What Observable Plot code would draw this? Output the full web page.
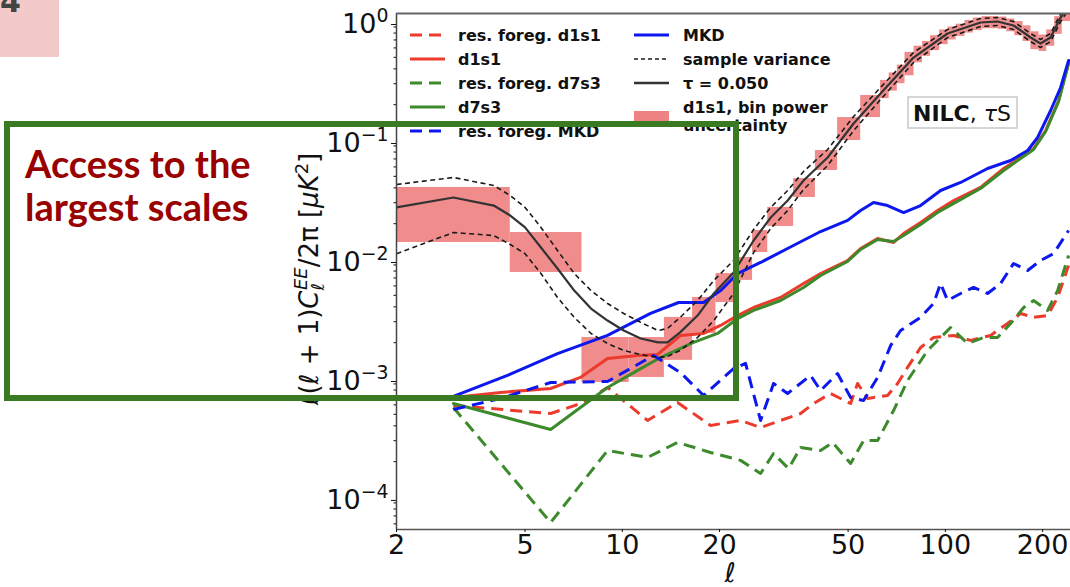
<!DOCTYPE html>
<html><head><meta charset="utf-8">
<script src="https://cdn.jsdelivr.net/npm/d3@7"></script>
<script src="https://cdn.jsdelivr.net/npm/@observablehq/plot@0.6"></script>
<style>
html,body{margin:0;padding:0;background:#fff;}
body{width:1070px;height:587px;overflow:hidden;position:relative;}
#chart{position:absolute;left:0;top:0;}
</style></head>
<body><div id="chart"></div>
<script>
// ---------- data ----------
// theory tau = 0.050 and sample variance band
const thEll = [2,3,4,4.5,5,5.6,6.3,7.1,8,9,10.1,11.4,12.9,13.8,15.1,17.1,19.2,22.1,25.5,28.8,32.5,36.4,43.2,52,63,79.7,101.6,128.5,145,162.6,183.6,197,211.7,227.5,240.6];
const tau050 = [0.0274,0.0332,0.0284,0.0234,0.0186,0.0126,0.0084,0.00548,0.00387,0.00307,0.00253,0.00217,0.00201,0.00201,0.00244,0.00338,0.00518,0.00778,0.01445,0.02254,0.0313,0.0461,0.072,0.139,0.248,0.498,0.793,0.981,1.0,0.926,0.734,0.653,0.734,1.08,1.36];
const svUpper = [0.0427,0.0489,0.0419,0.0345,0.0274,0.0186,0.01191,0.00762,0.00548,0.00427,0.00352,0.00296,0.00253,0.00263,0.00326,0.00452,0.00667,0.00981,0.01787,0.0274,0.038,0.0549,0.084,0.159,0.279,0.549,0.857,1.06,1.08,1.0,0.793,0.706,0.793,1.167,1.47];
const svLower = [0.0112,0.01686,0.0159,0.01337,0.0112,0.00762,0.0048,0.00326,0.00239,0.00197,0.00172,0.00159,0.0015,0.00153,0.00172,0.00221,0.00307,0.00518,0.01145,0.01823,0.0258,0.0388,0.0616,0.121,0.221,0.452,0.734,0.908,0.926,0.857,0.679,0.605,0.679,1.0,1.26];

// MKD
const mkdEll = [3,4.41,6.3,9,12.23,14.94,17.85,20.14,22.74,26.79,32.48,41.1,49.82,54.65,59.96,66.26,74.26,83.82,96.66,111.5,135.1,159.2,179.8,193,211.8,227.4,240.7];
const mkd = [0.000706,0.00106,0.00162,0.0023,0.00352,0.00435,0.00435,0.00548,0.00762,0.00944,0.01237,0.01718,0.0213,0.0258,0.0301,0.0284,0.0248,0.0284,0.038,0.0444,0.0582,0.0679,0.0824,0.106,0.1787,0.279,0.47];
// d1s1
const d1s1Ell = [3,4.2,6,7.42,9,11.15,12.85,15.15,17.85,20.14,22.74,25.49,30.9,36.4,41.1,49.82,54.65,61.7,69.15,74.26,83.82,94.62,106.1,128.5,151.5,171,187.6,204.4,224.2,240.7];
const d1s1 = [0.000692,0.000763,0.000824,0.00102,0.00147,0.00156,0.00159,0.0023,0.00239,0.00279,0.00338,0.00395,0.0048,0.00629,0.00762,0.00981,0.01237,0.01501,0.0139,0.01653,0.0205,0.0258,0.0313,0.0403,0.0582,0.072,0.0857,0.121,0.217,0.452];
// d7s3
const d7s3Ell = [3,6,9,11.15,13.13,16.62,19.72,22.74,25.49,30.9,36.4,41.1,49.82,54.65,61.7,69.15,74.26,83.82,94.62,106.1,128.5,151.5,171,187.6,204.4,224.2,240.7];
const d7s3 = [0.000616,0.000373,0.00084,0.00117,0.0015,0.00201,0.00239,0.00319,0.00373,0.00452,0.00582,0.00734,0.00962,0.01214,0.01473,0.01417,0.0159,0.0197,0.0248,0.0296,0.0395,0.056,0.0706,0.084,0.119,0.213,0.4436];
// residual foregrounds
const resD1s1Ell = [3,6,7.59,9,11.97,14.83,18.76,23.23,26.79,30.9,35.63,39.09,44.13,50.9,53.5,57.44,66.26,71.15,76.4,83.82,91.95,106.1,119.7,138,155.8,171,187.6,207.3,222.6,240.7];
const resD1s1 = [0.000593,0.000508,0.000628,0.00084,0.000444,0.000628,0.000403,0.000444,0.000387,0.000444,0.000508,0.000616,0.000748,0.000616,0.000908,0.000679,0.00072,0.000908,0.00124,0.00182,0.00221,0.0023,0.00209,0.0023,0.0029,0.00352,0.00326,0.00338,0.0048,0.00891];
const resD7s3Ell = [3,6,9,11.97,14.83,18.76,23.23,26.79,29.39,32.7,35.63,41.1,44.76,50.9,55.83,61.7,69.15,76.4,88.1,96.66,103.8,117.2,131.3,145.1,159.2,174.7,187.6,207.3,222.6,240.7];
const resD7s3 = [0.00057,0.0000616,0.000248,0.000217,0.00029,0.000239,0.000205,0.000159,0.000234,0.000175,0.000263,0.000248,0.00029,0.000193,0.000301,0.000301,0.000538,0.000962,0.00172,0.00221,0.00268,0.00197,0.00221,0.00221,0.0029,0.00395,0.00452,0.00373,0.00548,0.01081];
const resMkdEll = [3,4.2,6,9,12.5,15.15,17.85,22.1,24.07,26.79,29.39,32.48,38.27,41.1,46.38,50.9,55.83,61.7,67.69,72.69,83.82,91.95,96.66,101.6,111.5,122.3,135.1,148.3,162.6,179.8,197.2,216.3,240.7];
const resMkd = [0.000549,0.000679,0.000925,0.000944,0.00156,0.00112,0.00072,0.00121,0.00134,0.000444,0.000908,0.000748,0.00106,0.000793,0.0011,0.000692,0.000653,0.00102,0.00189,0.00253,0.00326,0.00427,0.00629,0.00452,0.00518,0.00582,0.00518,0.00629,0.00925,0.00809,0.00981,0.0112,0.01753];

// d1s1 bin power uncertainty boxes
const binLo  = [2,4.5,7.5,10.5,13.5,16.5,19.5,22.5,25.3,28.2,33.9,39.6,46.4,54.7,63,67,71,75,80,85,90,96,102,108,115,122,130,138,146,155,164,174,184,195,206,218,230];
const binHi  = [4.5,7.5,10.5,13.5,16.5,19.5,22.5,25.3,28.2,33.9,39.6,46.4,54.7,63,67,71,75,80,85,90,96,102,108,115,122,130,138,146,155,164,174,184,195,206,218,230,244];
const binMin = [0.0139,0.00778,0.000925,0.00102,0.00142,0.00239,0.00435,0.00667,0.01145,0.01893,0.0332,0.056,0.1,0.156,0.225,0.26,0.30,0.35,0.45,0.51,0.57,0.64,0.70,0.75,0.80,0.84,0.87,0.87,0.86,0.82,0.76,0.68,0.58,0.56,0.62,0.78,1.0];
const binMax = [0.0403,0.01686,0.00221,0.00221,0.00326,0.0048,0.00762,0.0104,0.01753,0.0274,0.0479,0.0824,0.156,0.239,0.32,0.37,0.43,0.55,0.62,0.68,0.76,0.85,0.90,0.95,1.02,1.07,1.10,1.10,1.09,1.05,1.0,0.92,0.82,0.77,0.85,1.1,1.5];

const xTicks = [2,5,10,20,50,100,200];
const yTicks = [1e-4,1e-3,1e-2,1e-1,1];

// ---------- styles ----------
const RED = "#ec3b2c", GREEN = "#3c8a2c", BLUE = "#0c18ee", PINK = "#ef8282";
const DASH = "12,7";

const yMinor = [];
for (let k = -5; k <= 0; k++) for (let m = 2; m <= 9; m++) {
  const v = m * Math.pow(10, k);
  if (v > 5.38e-5 && v < 1.168) yMinor.push(v);
}

const bins = binLo.map((d, i) => ({lo: d, hi: binHi[i], min: binMin[i], max: binMax[i]}));
const ln = (xs, ys, o) => Plot.line(xs, {x: xs, y: ys, clip: true, strokeLinejoin: "round", ...o});

const chart = Plot.plot({
  width: 1070, height: 587,
  marginLeft: 396, marginRight: 0, marginTop: 13, marginBottom: 58,
  style: {fontFamily: "DejaVu Sans", fontSize: "27px", background: "transparent", color: "#111"},
  x: {type: "log", domain: [2, 244]},
  y: {type: "log", domain: [5.38e-5, 1.168]},
  marks: [
    Plot.rect(bins, {x1: "lo", x2: "hi", y1: "min", y2: "max", fill: PINK, fillOpacity: 0.92, clip: true}),
    ln(resD1s1Ell, resD1s1, {stroke: RED, strokeWidth: 3, strokeDasharray: DASH, strokeLinecap: "butt"}),
    ln(d1s1Ell, d1s1, {stroke: RED, strokeWidth: 3}),
    ln(resD7s3Ell, resD7s3, {stroke: GREEN, strokeWidth: 3, strokeDasharray: DASH, strokeLinecap: "butt"}),
    ln(d7s3Ell, d7s3, {stroke: GREEN, strokeWidth: 3}),
    ln(resMkdEll, resMkd, {stroke: BLUE, strokeWidth: 3, strokeDasharray: DASH, strokeLinecap: "butt"}),
    ln(mkdEll, mkd, {stroke: BLUE, strokeWidth: 3}),
    ln(thEll, svUpper, {stroke: "#1a1a1a", strokeWidth: 1.6, strokeDasharray: "5,3.5", strokeLinecap: "butt"}),
    ln(thEll, svLower, {stroke: "#1a1a1a", strokeWidth: 1.6, strokeDasharray: "5,3.5", strokeLinecap: "butt"}),
    ln(thEll, tau050, {stroke: "#333", strokeWidth: 2.2}),
    Plot.ruleX([2], {stroke: "#444", strokeWidth: 1.5}),
    Plot.ruleY([5.38e-5], {stroke: "#555", strokeWidth: 1.5}),
    Plot.ruleY([1.168], {stroke: "#666", strokeWidth: 2}),
    Plot.axisX({ticks: xTicks, tickFormat: d => String(d), tickSize: 3, tickPadding: 2, label: null}),
    Plot.axisY({ticks: yTicks, tickFormat: d => "10^" + Math.round(Math.log10(d)), tickSize: 5, tickPadding: 3, dy: 3, label: null}),
    Plot.axisY({ticks: yMinor, tickFormat: () => "", tickSize: 2.5, label: null})
  ]
});
document.getElementById("chart").appendChild(chart);

const svg = d3.select(chart);
// superscript exponents on the y tick labels
svg.selectAll("text").each(function () {
  const t = this.textContent;
  if (!t.startsWith("10^")) return;
  const e = t.slice(3).replace("-", "\u2212");
  const s = d3.select(this);
  s.text("10");
  s.append("tspan").attr("font-size", "0.7em").attr("dy", "-0.6em").text(e);
});

// axis titles
const yl = svg.append("text").attr("transform", "translate(318,279) rotate(-90)")
  .attr("text-anchor", "middle").attr("font-family", "DejaVu Sans").attr("font-size", 26).attr("fill", "#111");
yl.append("tspan").attr("font-style", "italic").text("\u2113");
yl.append("tspan").text("(");
yl.append("tspan").attr("font-style", "italic").text("\u2113");
yl.append("tspan").text(" + 1)");
yl.append("tspan").attr("font-style", "italic").text("C");
yl.append("tspan").attr("font-style", "italic").attr("font-size", 18).attr("dy", 6).text("\u2113");
yl.append("tspan").attr("font-style", "italic").attr("font-size", 18).attr("dx", -7).attr("dy", -17).text("EE");
yl.append("tspan").attr("dy", 11).text("/2\u03c0 [");
yl.append("tspan").attr("font-style", "italic").text("\u03bcK");
yl.append("tspan").attr("font-size", 18).attr("dy", -10).text("2");
yl.append("tspan").attr("dy", 10).text("]");

svg.append("text").attr("x", 730).attr("y", 582).attr("text-anchor", "middle")
  .attr("font-family", "DejaVu Sans").attr("font-style", "italic").attr("font-size", 27).attr("fill", "#111").text("\u2113");

// legend
const leg = svg.append("g").attr("font-family", "DejaVu Sans").attr("font-weight", "bold")
  .attr("font-size", 16).attr("fill", "#111").attr("text-anchor", "start");
const col1 = [
  {y: 35, c: RED, d: DASH, w: 3, t: "res. foreg. d1s1"},
  {y: 59, c: RED, d: null, w: 3, t: "d1s1"},
  {y: 83, c: GREEN, d: DASH, w: 3, t: "res. foreg. d7s3"},
  {y: 107, c: GREEN, d: null, w: 3, t: "d7s3"},
  {y: 131, c: BLUE, d: DASH, w: 3, t: "res. foreg. MKD"}
];
const col2 = [
  {y: 35, c: BLUE, d: null, w: 3, t: "MKD"},
  {y: 59, c: "#1a1a1a", d: "4,3", w: 1.5, t: "sample variance"},
  {y: 83, c: "#333", d: null, w: 2.5, t: "\u03c4 = 0.050"}
];
function legLine(x1, e) {
  leg.append("line").attr("x1", x1).attr("x2", x1 + 35).attr("y1", e.y).attr("y2", e.y)
    .attr("stroke", e.c).attr("stroke-width", e.w).attr("stroke-dasharray", e.d);
}
col1.forEach(e => { legLine(410, e); leg.append("text").attr("x", 458).attr("y", e.y + 6).text(e.t); });
col2.forEach(e => { legLine(634, e); leg.append("text").attr("x", 683).attr("y", e.y + 6).text(e.t); });
leg.append("rect").attr("x", 634).attr("y", 111).attr("width", 35).attr("height", 11).attr("fill", PINK);
leg.append("text").attr("x", 683).attr("y", 113).text("d1s1, bin power");
leg.append("text").attr("x", 683).attr("y", 131).text("uncertainty");

// NILC box
svg.append("rect").attr("x", 908).attr("y", 97).attr("width", 109).attr("height", 31)
  .attr("fill", "#fff").attr("stroke", "#c8c8c8").attr("stroke-width", 1.5);
const nt = svg.append("text").attr("x", 913).attr("y", 121).attr("text-anchor", "start")
  .attr("font-family", "DejaVu Sans").attr("font-size", 22).attr("fill", "#111");
nt.append("tspan").attr("font-weight", "bold").text("NILC");
nt.append("tspan").text(", ");
nt.append("tspan").attr("font-style", "italic").text("\u03c4");
nt.append("tspan").text("S");

// slide decorations
svg.append("rect").attr("x", 0).attr("y", 0).attr("width", 59).attr("height", 57).attr("fill", "#f4c9c9");
svg.append("text").attr("x", 0).attr("y", 12).attr("text-anchor", "start").attr("font-family", "DejaVu Sans")
  .attr("font-weight", "bold").attr("font-size", 30).attr("fill", "#444").text("4");
svg.append("rect").attr("x", 7).attr("y", 124).attr("width", 729).attr("height", 274)
  .attr("fill", "none").attr("stroke", "#3a7a22").attr("stroke-width", 6);
const at = svg.append("text").attr("text-anchor", "start").attr("font-family", "Lato")
  .attr("font-weight", "bold").attr("font-size", 38).attr("fill", "#990000");
at.append("tspan").attr("x", 25).attr("y", 178).text("Access to the");
at.append("tspan").attr("x", 25).attr("y", 221).text("largest scales");
</script>
</body></html>
